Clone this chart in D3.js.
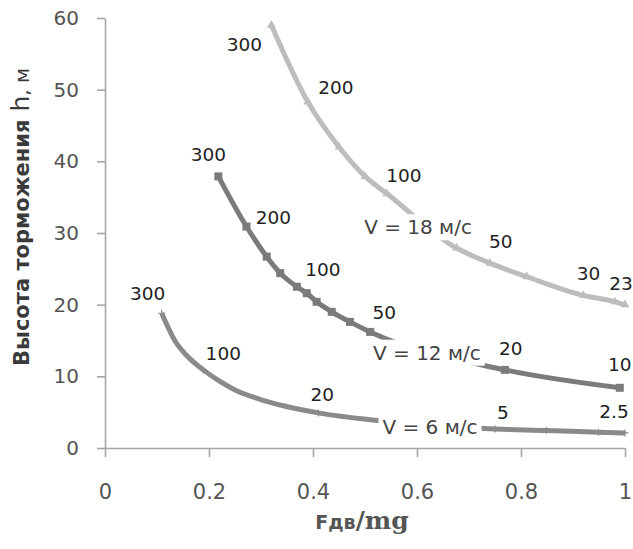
<!DOCTYPE html>
<html>
<head>
<meta charset="utf-8">
<script src="https://cdn.jsdelivr.net/npm/d3@7/dist/d3.min.js"></script>
<style>
  html, body { margin: 0; padding: 0; background: #fff; }
  svg { display: block; }
</style>
</head>
<body>
<svg id="chart" width="633" height="549"></svg>
<script>
// ---------- DATA ----------
const xTicks = [0, 0.2, 0.4, 0.6, 0.8, 1];
const xTickLabels = ["0", "0.2", "0.4", "0.6", "0.8", "1"];
const yTicks = [0, 10, 20, 30, 40, 50, 60];
const yTickLabels = ["0", "10", "20", "30", "40", "50", "60"];

const seriesNames = ["V = 18 м/с", "V = 12 м/с", "V = 6 м/с"];

const v18X = [0.32, 0.39, 0.45, 0.50, 0.542, 0.676, 0.740, 0.811, 0.920, 0.981, 1.0];
const v18Y = [59.0, 48.3, 42.0, 37.9, 35.5, 27.9, 25.8, 23.9, 21.3, 20.4, 20.0];
const v18Labels = ["300", "200", null, null, "100", null, "50", null, "30", "23", null];

const v12X = [0.218, 0.272, 0.311, 0.337, 0.369, 0.388, 0.407, 0.436, 0.471, 0.510, 0.769, 0.99];
const v12Y = [37.9, 30.9, 26.7, 24.4, 22.5, 21.6, 20.4, 19.0, 17.6, 16.2, 10.9, 8.4];
const v12Labels = ["300", "200", null, null, "100", null, null, null, null, "50", "20", "10"];

const v6X = [0.109, 0.135, 0.157, 0.189, 0.221, 0.253, 0.298, 0.343, 0.410, 0.529, 0.75, 0.849, 0.949, 1.0];
const v6Y = [18.8, 14.9, 12.9, 10.9, 9.3, 8.0, 6.8, 5.9, 4.9, 3.8, 2.65, 2.45, 2.2, 2.1];
const v6Labels = ["300", null, null, "100", null, null, null, null, "20", null, "5", null, null, "2.5"];

// series name label anchors (data units)
const nameX = [0.602, 0.619, 0.625];
const nameY = [30.8, 13.3, 2.9];

// ---------- LAYOUT / STYLE ----------
const svg = d3.select("#chart");
const x = d3.scaleLinear().domain([0, 1]).range([105, 625]);
const y = d3.scaleLinear().domain([0, 60]).range([448, 18]);

const axisColor = "#a6a6a6";
const textColor = "#555555";
const FONT = "DejaVu Sans, Verdana, sans-serif";

const seriesStyle = [
  { color: "#bdbdbd", marker: "tri" },
  { color: "#7b7b7b", marker: "sq" },
  { color: "#8a8a8a", marker: "tick" }
];
// pixel offsets of value labels from their points
const labelOffsets = [
  { "300": [-27, 19], "200": [28, -14], "100": [17, -18], "50": [11, -22], "30": [5, -22], "23": [6, -18] },
  { "300": [-10, -22], "200": [27, -9], "100": [26, -17], "50": [14, -19], "20": [6, -21], "10": [0, -23] },
  { "300": [-14, -20], "100": [20, -16], "20": [4, -18], "5": [8, -17], "2.5": [-11, -21] }
];

// ---------- AXES ----------
const yAxis = d3.axisLeft(y).tickValues(yTicks).tickFormat((d, i) => yTickLabels[i])
  .tickSizeInner(8).tickSizeOuter(0).tickPadding(18);
const gy = svg.append("g").attr("transform", `translate(${x(0)},0)`).call(yAxis);
gy.selectAll("path, line").attr("stroke", axisColor).attr("stroke-width", 1.6);
gy.selectAll("text").attr("fill", textColor).style("font-family", FONT).style("font-size", "20px");

const xAxis = d3.axisBottom(x).tickValues(xTicks).tickFormat((d, i) => xTickLabels[i])
  .tickSizeInner(9).tickSizeOuter(0).tickPadding(27);
const gx = svg.append("g").attr("transform", `translate(0,${y(0)})`).call(xAxis);
gx.selectAll("path, line").attr("stroke", axisColor).attr("stroke-width", 1.6);
gx.selectAll("text").attr("fill", textColor).style("font-family", FONT).style("font-size", "21px");

// ---------- SERIES ----------
const allSeries = [
  { xs: v18X, ys: v18Y, labels: v18Labels },
  { xs: v12X, ys: v12Y, labels: v12Labels },
  { xs: v6X, ys: v6Y, labels: v6Labels }
];

const line = d3.line().x(d => x(d[0])).y(d => y(d[1])).curve(d3.curveMonotoneX);

allSeries.forEach((s, si) => {
  const pts = s.xs.map((v, i) => [v, s.ys[i]]);
  const st = seriesStyle[si];
  const g = svg.append("g");
  g.append("path").datum(pts).attr("d", line).attr("fill", "none")
    .attr("stroke", st.color).attr("stroke-width", 5).attr("stroke-linecap", "butt");
  if (st.marker === "tri") {
    g.selectAll("path.m").data(pts).enter().append("path").attr("class", "m")
      .attr("d", d3.symbol().type(d3.symbolTriangle).size(34))
      .attr("transform", d => `translate(${x(d[0])},${y(d[1])})`)
      .attr("fill", st.color);
  } else if (st.marker === "sq") {
    g.selectAll("rect.m").data(pts).enter().append("rect").attr("class", "m")
      .attr("x", d => x(d[0]) - 4).attr("y", d => y(d[1]) - 4)
      .attr("width", 8).attr("height", 8).attr("fill", st.color);
  } else {
    g.selectAll("path.m").data(pts.filter((d, i) => s.labels[i] != null || i > 9)).enter()
      .append("path").attr("class", "m")
      .attr("d", d => `M${x(d[0]) - 3.5},${y(d[1])}h7M${x(d[0])},${y(d[1]) - 3.5}v7`)
      .attr("stroke", st.color).attr("stroke-width", 1.2);
  }
  // value labels
  pts.forEach((p, i) => {
    const t = s.labels[i];
    if (t == null) return;
    const off = labelOffsets[si][t];
    svg.append("text").attr("x", x(p[0]) + off[0]).attr("y", y(p[1]) + off[1])
      .attr("text-anchor", "middle").attr("dominant-baseline", "central")
      .attr("fill", "#222").style("font-family", FONT)
      .style("font-size", "18.5px").text(t);
  });
});

// series name labels with white background (break the lines)
seriesNames.forEach((n, i) => {
  const g = svg.append("g").attr("transform", `translate(${x(nameX[i])},${y(nameY[i])})`);
  const t = g.append("text").attr("text-anchor", "middle").attr("dominant-baseline", "central")
    .attr("fill", "#444").style("font-family", FONT)
    .style("font-size", "20px").text(n);
  const bb = t.node().getBBox();
  g.insert("rect", "text").attr("x", bb.x - 4).attr("y", bb.y - 1)
    .attr("width", bb.width + 8).attr("height", bb.height + 2).attr("fill", "#fff");
});

// ---------- AXIS TITLES ----------
const xt = svg.append("text").attr("x", 362).attr("y", 529).attr("text-anchor", "middle")
  .attr("fill", "#555");
xt.append("tspan").style("font-family", FONT).style("font-size", "19px")
  .style("font-weight", "bold").text("Fдв");
xt.append("tspan").style("font-family", "DejaVu Serif, Liberation Serif, serif").style("font-size", "25px")
  .style("font-weight", "bold").text("/mg");

const yt = svg.append("text").attr("transform", "translate(29,217) rotate(-90)")
  .attr("text-anchor", "middle").attr("fill", "#3a3a3a");
yt.append("tspan").style("font-family", FONT).style("font-size", "21px")
  .style("font-weight", "bold").text("Высота торможения");
yt.append("tspan").style("font-family", FONT).style("font-size", "25px")
  .text(" h");
yt.append("tspan").style("font-family", FONT).style("font-size", "20px")
  .text(", м");
</script>
</body>
</html>
